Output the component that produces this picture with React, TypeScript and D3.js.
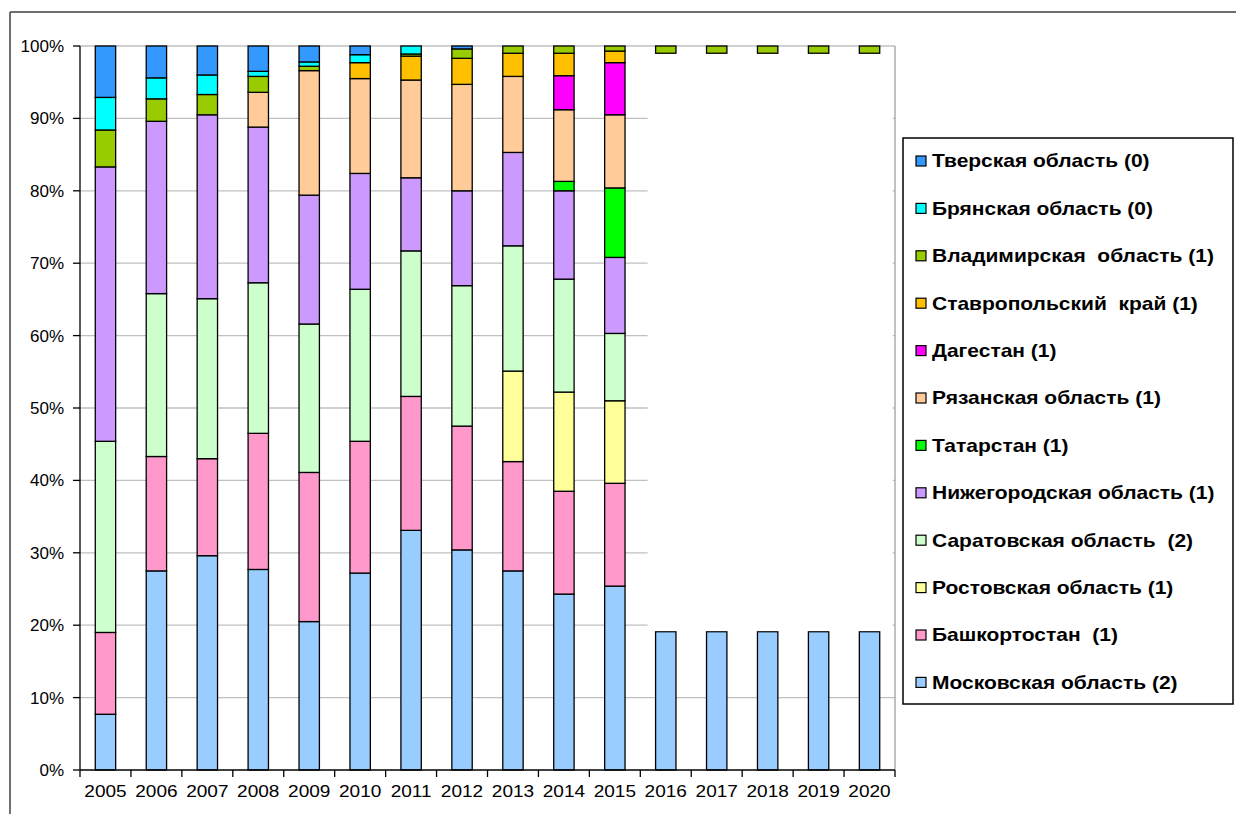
import React from "react";
import * as d3 from "d3";

const years = ["2005","2006","2007","2008","2009","2010","2011","2012","2013","2014","2015","2016","2017","2018","2019","2020"];

// segment sizes in percent, per year
const moscow    = [7.7, 27.5, 29.6, 27.7, 20.5, 27.2, 33.1, 30.4, 27.5, 24.3, 25.4, 19.1, 19.1, 19.1, 19.1, 19.1];
const bashkir   = [11.3, 15.8, 13.4, 18.8, 20.6, 18.2, 18.5, 17.1, 15.1, 14.2, 14.2, 0, 0, 0, 0, 0];
const rostov    = [0, 0, 0, 0, 0, 0, 0, 0, 12.5, 13.7, 11.4, 0, 0, 0, 0, 0];
const saratov   = [26.4, 22.5, 22.1, 20.8, 20.5, 21.0, 20.1, 19.4, 17.3, 15.6, 9.3, 0, 0, 0, 0, 0];
const nizhny    = [37.9, 23.8, 25.4, 21.5, 17.8, 16.0, 10.1, 13.1, 12.9, 12.2, 10.5, 0, 0, 0, 0, 0];
const tatarstan = [0, 0, 0, 0, 0, 0, 0, 0, 0, 1.3, 9.6, 0, 0, 0, 0, 0];
const ryazan    = [0, 0, 0, 4.8, 17.2, 13.1, 13.5, 14.7, 10.5, 9.9, 10.1, 0, 0, 0, 0, 0];
const dagestan  = [0, 0, 0, 0, 0, 0, 0, 0, 0, 4.7, 7.2, 0, 0, 0, 0, 0];
const stavropol = [0, 0, 0, 0, 0, 2.2, 3.3, 3.6, 3.2, 3.1, 1.6, 0, 0, 0, 0, 0];
// part of the 2016-2020 columns that is hidden under a white box in the original
const covered   = [0, 0, 0, 0, 0, 0, 0, 0, 0, 0, 0, 79.9, 79.9, 79.9, 79.9, 79.9];
const vladimir  = [5.1, 3.1, 2.8, 2.2, 0.6, 0, 0.3, 1.3, 1.0, 1.0, 0.7, 1.0, 1.0, 1.0, 1.0, 1.0];
const bryansk   = [4.5, 2.9, 2.7, 0.7, 0.6, 1.1, 1.1, 0, 0, 0, 0, 0, 0, 0, 0, 0];
const tver      = [7.1, 4.4, 4.0, 3.5, 2.2, 1.2, 0, 0.4, 0, 0, 0, 0, 0, 0, 0, 0];

const yTicks = [0, 10, 20, 30, 40, 50, 60, 70, 80, 90, 100];

const seriesDefs = [
  { key: "moscow", label: "Московская область (2)", color: "#99CCFF", values: moscow },
  { key: "bashkir", label: "Башкортостан  (1)", color: "#FF99CC", values: bashkir },
  { key: "rostov", label: "Ростовская область (1)", color: "#FFFF99", values: rostov },
  { key: "saratov", label: "Саратовская область  (2)", color: "#CCFFCC", values: saratov },
  { key: "nizhny", label: "Нижегородская область (1)", color: "#CC99FF", values: nizhny },
  { key: "tatarstan", label: "Татарстан (1)", color: "#00FF00", values: tatarstan },
  { key: "ryazan", label: "Рязанская область (1)", color: "#FFCC99", values: ryazan },
  { key: "dagestan", label: "Дагестан (1)", color: "#FF00FF", values: dagestan },
  { key: "stavropol", label: "Ставропольский  край (1)", color: "#FFC000", values: stavropol },
  { key: "covered", label: "", color: "#FFFFFF", values: covered },
  { key: "vladimir", label: "Владимирская  область (1)", color: "#99CC00", values: vladimir },
  { key: "bryansk", label: "Брянская область (0)", color: "#00FFFF", values: bryansk },
  { key: "tver", label: "Тверская область (0)", color: "#3399FF", values: tver },
];

const W = 1236, H = 814;
const L = 80, R = 895, T = 46, B = 770;
const FONT = "'Liberation Sans', Arial, sans-serif";

export default function App() {
  const x = d3.scaleBand<string>().domain(years).range([L, R]).paddingInner(0.6).paddingOuter(0.3);
  const y = d3.scaleLinear().domain([0, 100]).range([B, T]);
  const step = x.step();

  const table = years.map((yr, i) => {
    const row: any = { year: yr };
    seriesDefs.forEach((s) => (row[s.key] = s.values[i]));
    return row;
  });
  const stack = d3.stack<any>().keys(seriesDefs.map((s) => s.key));
  const layers = stack(table);

  const coveredLayer = layers.find((l) => l.key === "covered")!;
  const covIdx = covered.map((v, i) => (v > 0 ? i : -1)).filter((i) => i >= 0);
  const c0 = covIdx[0], c1 = covIdx[covIdx.length - 1];
  const coverRect = {
    x0: x(years[c0])! - 8,
    x1: x(years[c1])! + x.bandwidth() + 13,
    y0: y(coveredLayer[c0][1]),
    y1: y(coveredLayer[c0][0]),
  };

  const legendItems = seriesDefs.filter((s) => s.key !== "covered").slice().reverse();
  const legTop = 161, legStep = 47.4;
  const legSX = 1.2;
  const yearSX = 1.12;

  return (
    <svg width={W} height={H} style={{ position: "absolute", left: 0, top: 0, background: "#fff" }} fontFamily={FONT}>
      <rect x={0} y={0} width={W} height={H} fill="#fff" />
      {/* outer frame */}
      <line x1={10} y1={12} x2={W} y2={12} stroke="#404040" strokeWidth={1.5} />
      <line x1={10} y1={12} x2={10} y2={H} stroke="#404040" strokeWidth={1.5} />

      {/* gridlines */}
      {yTicks.filter((t) => t > 0).map((t) => (
        <line key={"g" + t} x1={L} x2={R} y1={y(t)} y2={y(t)} stroke="#C0C0C0" strokeWidth={1.3} />
      ))}
      <line x1={R} x2={R} y1={T} y2={B} stroke="#A0A0A0" strokeWidth={1.3} />

      {/* bars */}
      {layers.map((layer, li) => {
        const def = seriesDefs[li];
        if (def.key === "covered") return null;
        return (
          <g key={def.key}>
            {layer.map((d, i) => {
              const h = y(d[0]) - y(d[1]);
              if (d[1] - d[0] <= 0) return null;
              return (
                <rect key={i} x={x(years[i])} y={y(d[1])} width={x.bandwidth()} height={h}
                  fill={def.color} stroke="#000" strokeWidth={1.3} />
              );
            })}
          </g>
        );
      })}
      {/* white box over the 2016-2020 columns as in the original */}
      <rect x={coverRect.x0} y={coverRect.y0 + 0.8} width={coverRect.x1 - coverRect.x0} height={coverRect.y1 - coverRect.y0 - 1.4} fill="#fff" />

      {/* axes */}
      <line x1={L} x2={L} y1={T} y2={B} stroke="#000" strokeWidth={1.3} />
      <line x1={L} x2={R} y1={B} y2={B} stroke="#000" strokeWidth={1.3} />
      {yTicks.map((t) => (
        <g key={"yt" + t}>
          <line x1={L - 7} x2={L} y1={y(t)} y2={y(t)} stroke="#000" strokeWidth={1.3} />
          <text x={64} y={y(t)} dy="0.35em" textAnchor="end" fontSize={17} fill="#000">{t}%</text>
        </g>
      ))}
      {d3.range(years.length + 1).map((k) => (
        <line key={"xt" + k} x1={L + k * step} x2={L + k * step} y1={B} y2={B + 7} stroke="#000" strokeWidth={1.3} />
      ))}
      {years.map((yr) => {
        const cx = x(yr)! + x.bandwidth() / 2;
        return (
          <text key={"xl" + yr} transform={`translate(${cx},797) scale(${yearSX},1)`} textAnchor="middle" fontSize={17} fill="#000">{yr}</text>
        );
      })}

      {/* legend */}
      <rect x={903} y={138} width={330} height={566} fill="#fff" stroke="#000" strokeWidth={1.5} />
      {legendItems.map((s, i) => {
        const cy = legTop + i * legStep;
        return (
          <g key={"lg" + s.key}>
            <rect x={916} y={cy - 5} width={10} height={10} fill={s.color} stroke="#000" strokeWidth={1.2} />
            <text transform={`translate(932,${cy}) scale(${legSX},1)`} dy="0.36em" fontSize={17.5} fontWeight="bold" fill="#000" style={{ whiteSpace: "pre" }}>{s.label}</text>
          </g>
        );
      })}
    </svg>
  );
}
